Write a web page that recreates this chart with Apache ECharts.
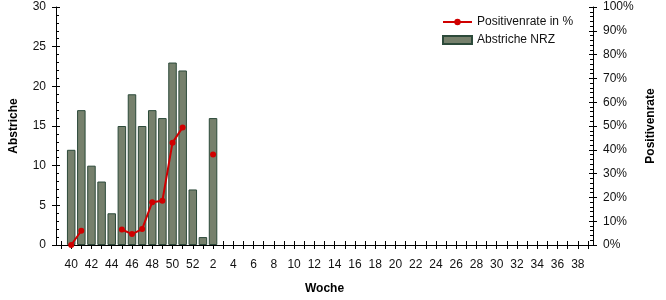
<!DOCTYPE html>
<html>
<head>
<meta charset="utf-8">
<script src="https://cdn.jsdelivr.net/npm/echarts@6/dist/echarts.min.js"></script>
<style>html,body{margin:0;padding:0;background:#fff}#c{width:666px;height:300px}</style>
</head>
<body>
<div id="c"></div>
<script>
const weeks = ['', '40','41','42','43','44','45','46','47','48','49','50','51','52',
  '1','2','3','4','5','6','7','8','9','10','11','12','13','14','15','16','17','18','19','20',
  '21','22','23','24','25','26','27','28','29','30','31','32','33','34','35','36','37','38','39'];
const swabs = [null, 12, 17, 10, 8, 4, 15, 19, 15, 17, 16, 23, 22, 7, 1, 16];
const positivity = [null, 0, 6, null, null, null, 6.5, 4.6, 6.7, 18, 18.6, 43, 49.4, null, null, 38];
const leftTicks = [0, 5, 10, 15, 20, 25, 30];
const rightTicks = [0, 10, 20, 30, 40, 50, 60, 70, 80, 90, 100];

const font = 'Arial, "Liberation Sans", sans-serif';
const txt = '#111';
const chart = echarts.init(document.getElementById('c'), null, {renderer: 'canvas'});
const odd = (i) => i % 2 === 1;
const ax = {lineStyle: {color: '#000', width: 1}};
chart.setOption({
  animation: false,
  grid: {left: 55, right: 73, top: 7, bottom: 53},
  legend: {
    orient: 'vertical', left: 437, top: 11, itemWidth: 29, itemHeight: 8, itemGap: 6,
    textStyle: {fontFamily: font, fontSize: 12, color: txt},
    data: ['Positivenrate in %', {name: 'Abstriche NRZ', icon: 'rect'}]
  },
  xAxis: [
    {type: 'category', data: weeks, position: 'bottom', boundaryGap: true,
     axisLine: ax,
     axisTick: {show: true, inside: true, length: 4, alignWithLabel: true, interval: 0, lineStyle: {color: '#000'}},
     axisLabel: {interval: (i) => odd(i), fontFamily: font, fontSize: 12, color: txt, margin: 14},
     name: 'Woche', nameLocation: 'middle', nameGap: 38,
     nameTextStyle: {fontFamily: font, fontSize: 12, fontWeight: 'bold', color: '#000'},
     splitLine: {show: false}},
    {type: 'category', data: weeks, position: 'bottom', boundaryGap: true, gridIndex: 0,
     axisLine: {show: false},
     axisTick: {show: true, inside: false, length: 4, alignWithLabel: true, interval: (i) => odd(i), lineStyle: {color: '#000'}},
     axisLabel: {show: false}, splitLine: {show: false}},
    {type: 'category', data: weeks, position: 'top', boundaryGap: true,
     axisLine: ax,
     axisTick: {show: true, inside: true, length: 4, alignWithLabel: true, interval: 0, lineStyle: {color: '#000'}},
     axisLabel: {show: false}, splitLine: {show: false}}
  ],
  yAxis: [
    {type: 'value', position: 'left', min: leftTicks[0], max: leftTicks[leftTicks.length - 1], interval: 5,
     axisLine: {show: true, lineStyle: {color: '#000'}},
     axisTick: {show: true, inside: true, length: 4, lineStyle: {color: '#000'}},
     minorTick: {show: true, splitNumber: 5, length: 3, lineStyle: {color: '#000'}},
     axisLabel: {fontFamily: font, fontSize: 12, color: txt, margin: 10},
     splitLine: {show: false},
     name: 'Abstriche', nameLocation: 'middle', nameGap: 36, nameRotate: 90,
     nameTextStyle: {fontFamily: font, fontSize: 12, fontWeight: 'bold', color: '#000'}},
    {type: 'value', position: 'right', min: rightTicks[0], max: rightTicks[rightTicks.length - 1], interval: 10,
     axisLine: {show: true, lineStyle: {color: '#000'}},
     axisTick: {show: true, inside: true, length: 4, lineStyle: {color: '#000'}},
     minorTick: {show: true, splitNumber: 5, length: 3, lineStyle: {color: '#000'}},
     axisLabel: {formatter: '{value}%', fontFamily: font, fontSize: 12, color: txt, margin: 10},
     splitLine: {show: false},
     name: 'Positivenrate', nameLocation: 'middle', nameGap: 48, nameRotate: 90,
     nameTextStyle: {fontFamily: font, fontSize: 12, fontWeight: 'bold', color: '#000'}},
    {type: 'value', position: 'left', min: 0, max: 30, interval: 5,
     axisLine: {show: false}, axisLabel: {show: false}, splitLine: {show: false},
     axisTick: {show: true, inside: false, length: 4, lineStyle: {color: '#000'}}},
    {type: 'value', position: 'right', min: 0, max: 100, interval: 10,
     axisLine: {show: false}, axisLabel: {show: false}, splitLine: {show: false},
     axisTick: {show: true, inside: false, length: 4, lineStyle: {color: '#000'}}}
  ],
  series: [
    {name: 'Abstriche NRZ', type: 'bar', xAxisIndex: 0, yAxisIndex: 0, data: swabs,
     barCategoryGap: '16%',
     itemStyle: {color: '#76806c', borderColor: '#2c4a3a', borderWidth: 1}},
    {name: 'Positivenrate in %', type: 'line', xAxisIndex: 0, yAxisIndex: 1, data: positivity,
     connectNulls: false, symbol: 'circle', symbolSize: 6, showAllSymbol: true,
     lineStyle: {color: '#d00000', width: 2}, itemStyle: {color: '#d00000'}, z: 5}
  ]
});
</script>
</body>
</html>
